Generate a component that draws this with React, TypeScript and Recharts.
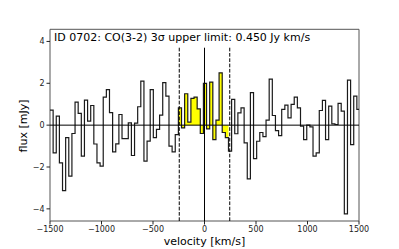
import React from 'react';
import {
  ComposedChart,
  Line,
  Area,
  XAxis,
  YAxis,
  ReferenceLine,
  ReferenceArea,
} from 'recharts';

// Spectrum channels: regular velocity grid
const VELOCITY_START = -1500; // km/s, left edge of the first channel
const CHANNEL_WIDTH = 30.4; // km/s

// Flux density per channel [mJy]
const FLUX_LEFT = [
  0.72, -1.32, 0.43, -1.8, -3.13, -0.6, -2.44, -0.4, 1.1, 0.56, -1.48, 1.2, 0.19, 0.94,
  -0.9, -1.8, -1.96, 1.34, 1.7, 0.6, -1.28, -0.89, 0.51, -0.64, -0.64, 0.11, -1.45, 0.1,
  0.88, 2.1, -1.72, -0.76, 1.7, -0.6, -0.2, 0.48, 2.03, 1.39, -1.0, -1.28, -0.45,
];
const FLUX_LINE_WINDOW = [
  0.83, -0.13, 1.5, 0.14, 1.28, 1.34, 0.78, -0.4, 2.0, -0.18, 2.06, -0.69, 0.24, 2.5,
  -0.35, -0.6,
];
const FLUX_RIGHT = [
  -1.24, 1.23, -0.41, 0.59, 0.83, -0.85, -2.57, 1.55, -1.6, -0.77, -0.35, -0.55, 0.24,
  2.2, 0.46, -0.26, -0.5, 0.75, 0.96, 0.35, 0.99, 1.34, 0.83, -0.05, -0.69, 0, -0.08,
  -1.48, -1.32, 0.7, 1.18, -0.69, 0.91, 0.06, 0.03, 1.04, 0.67, -4.24, 2.15, -0.93,
  1.39, 0.75,
];

const WINDOW_LEFT = -245;
const WINDOW_RIGHT = 245;
const X_TICKS = [-1500, -1000, -500, 0, 500, 1000, 1500];
const Y_TICKS = [-4, -2, 0, 2, 4];
const X_DOMAIN: [number, number] = [-1500, 1500];
const Y_DOMAIN: [number, number] = [-4.58, 4.58];
// vertical markers stop just below the title box
const MARKER_TOP = 3.7;

const TITLE = 'ID 0702: CO(3-2) 3\u03c3 upper limit: 0.450 Jy km/s';
const X_LABEL = 'velocity [km/s]';
const Y_LABEL = 'flux [mJy]';

const FLUX = [...FLUX_LEFT, ...FLUX_LINE_WINDOW, ...FLUX_RIGHT];
const fillFirst = FLUX_LEFT.length;
const fillLast = FLUX_LEFT.length + FLUX_LINE_WINDOW.length - 1;

const data: { v: number; flux: number; fill: number | null }[] = [];
for (let k = 0; k <= FLUX.length; k++) {
  const value = k < FLUX.length ? FLUX[k] : FLUX[FLUX.length - 1];
  let fill: number | null = null;
  if (k >= fillFirst && k <= fillLast) fill = FLUX[k];
  else if (k === fillLast + 1) fill = FLUX[fillLast];
  data.push({
    v: Math.round((VELOCITY_START + k * CHANNEL_WIDTH) * 10) / 10,
    flux: value,
    fill,
  });
}

const FONT = 'DejaVu Sans, sans-serif';
const fmt = (v: number) => String(v).replace('-', '\u2212');
const vSeg = (x: number) => [
  { x, y: Y_DOMAIN[0] },
  { x, y: MARKER_TOP },
];

export default function App() {
  return (
    <ComposedChart
      width={391}
      height={241}
      data={data}
      margin={{ top: 21.3, right: 40, bottom: 0, left: 0 }}
      style={{ fontFamily: FONT }}
    >
      <XAxis
        dataKey="v"
        type="number"
        domain={X_DOMAIN}
        ticks={X_TICKS}
        allowDataOverflow
        axisLine={false}
        tickLine={{ stroke: '#222' }}
        tickSize={3.5}
        height={28}
        tick={{ fontSize: 8, fill: '#222', fontFamily: FONT }}
        tickFormatter={fmt}
        interval={0}
      />
      <YAxis
        type="number"
        domain={Y_DOMAIN}
        ticks={Y_TICKS}
        allowDataOverflow
        axisLine={false}
        tickLine={{ stroke: '#222' }}
        tickSize={3.5}
        width={42}
        tick={{ fontSize: 8, fill: '#222', fontFamily: FONT }}
        tickFormatter={fmt}
        interval={0}
      />
      <Area
        dataKey="fill"
        type="stepAfter"
        stroke="none"
        fill="#ffff00"
        fillOpacity={1}
        baseValue={0}
        isAnimationActive={false}
        connectNulls={false}
        dot={false}
        activeDot={false}
      />
      <Line
        dataKey="flux"
        type="stepAfter"
        stroke="#1a1a1a"
        strokeWidth={1.2}
        dot={false}
        activeDot={false}
        isAnimationActive={false}
      />
      <ReferenceLine y={0} stroke="#000" strokeWidth={1} />
      <ReferenceLine segment={vSeg(0)} stroke="#000" strokeWidth={1} />
      <ReferenceLine
        segment={vSeg(WINDOW_LEFT)}
        stroke="#000"
        strokeWidth={1}
        strokeDasharray="3.7 1.6"
      />
      <ReferenceLine
        segment={vSeg(WINDOW_RIGHT)}
        stroke="#000"
        strokeWidth={1}
        strokeDasharray="3.7 1.6"
      />
      <ReferenceArea
        x1={X_DOMAIN[0]}
        x2={X_DOMAIN[1]}
        y1={Y_DOMAIN[0]}
        y2={Y_DOMAIN[1]}
        fill="none"
        stroke="#555"
        strokeWidth={1}
      />
      <text x={46} y={32.7} fontSize={11} fontFamily={FONT} fill="#000">
        {TITLE}
      </text>
      <text x={196.5} y={237.3} fontSize={11} fontFamily={FONT} fill="#000" textAnchor="middle">
        {X_LABEL}
      </text>
      <text
        x={19}
        y={118}
        fontSize={11}
        fontFamily={FONT}
        fill="#000"
        textAnchor="middle"
        transform="rotate(-90 19 118)"
      >
        {Y_LABEL}
      </text>
    </ComposedChart>
  );
}
